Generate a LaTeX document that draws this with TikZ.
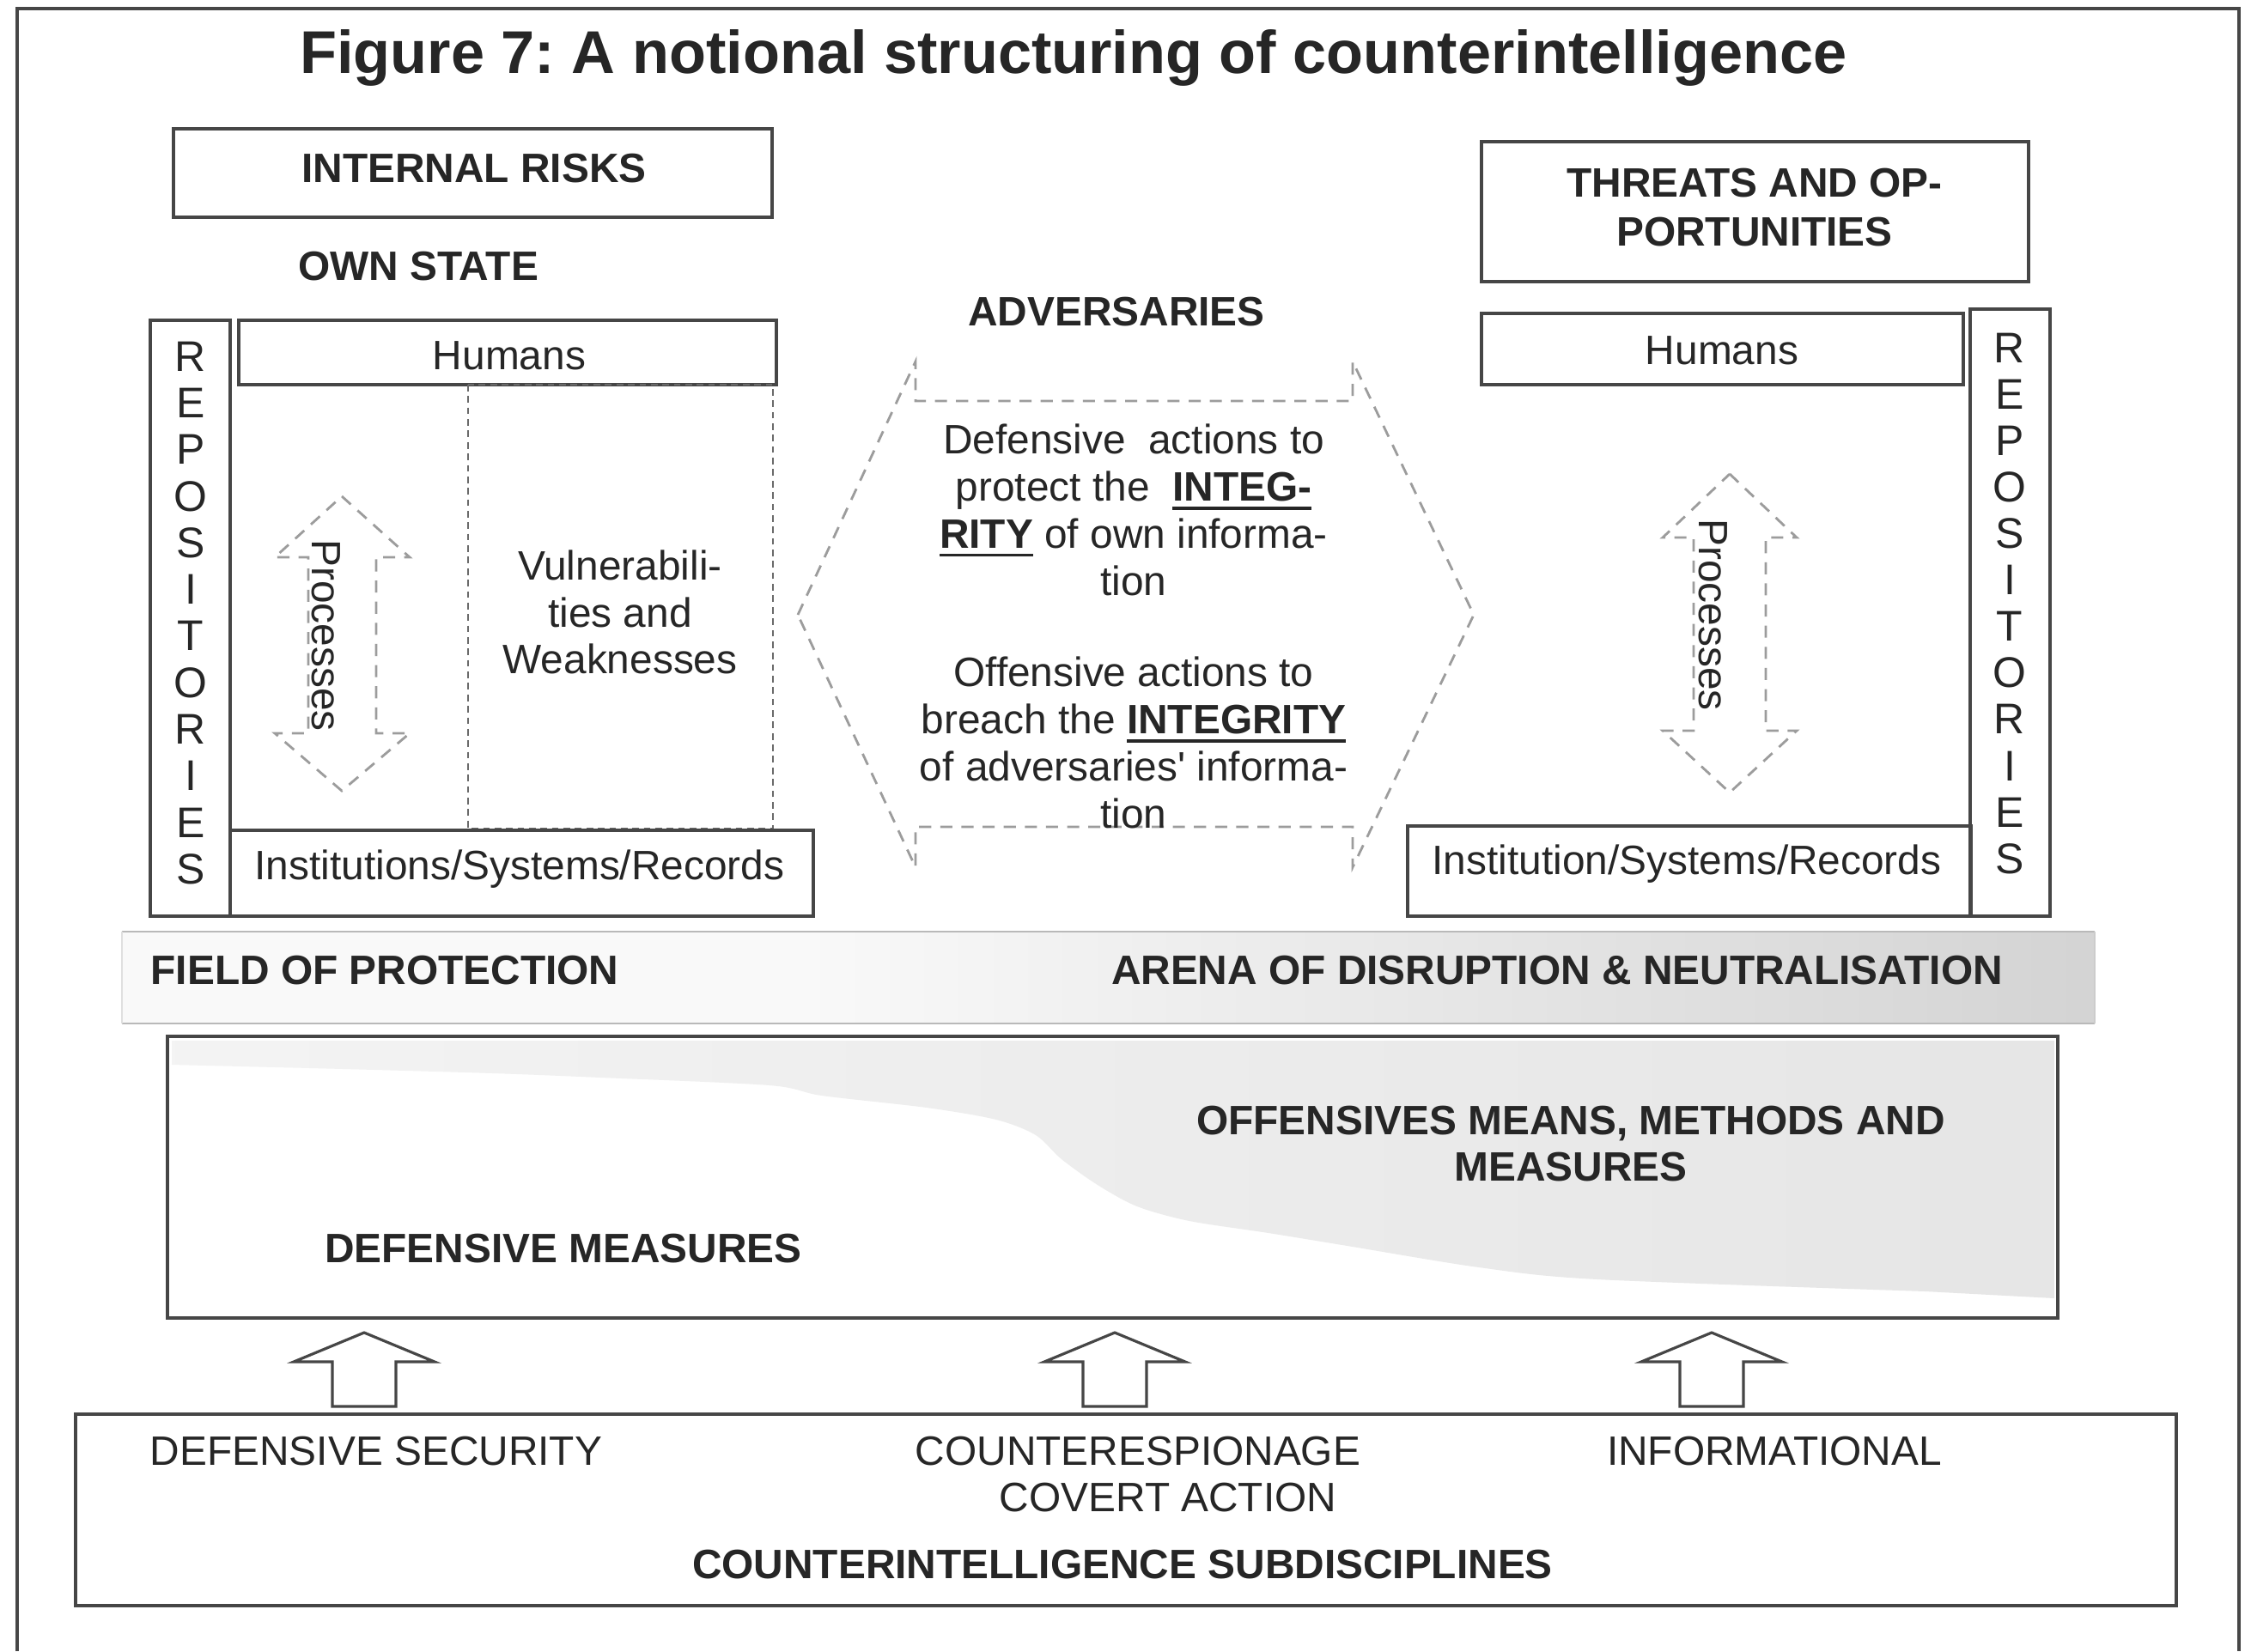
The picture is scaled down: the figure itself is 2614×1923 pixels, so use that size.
\documentclass[tikz,border=0pt]{standalone}
\usepackage{fontspec}
\setmainfont{Liberation Sans}
\frenchspacing
\definecolor{ink}{HTML}{262626}
\definecolor{edge}{HTML}{464646}
\definecolor{dashc}{HTML}{9C9C9C}
\definecolor{vdash}{HTML}{6A6A6A}
% bold keyword with a heavy underline
\newcommand{\undl}[1]{\setbox0=\hbox{\bfseries #1}\rlap{\raisebox{-2.8pt}{\rule{\wd0}{0.9pt}}}\box0\relax}
\begin{document}
\begin{tikzpicture}[x=0.01cm,y=-0.01cm,
  txt/.style={font=\fontsize{13.6}{15.6}\selectfont, text=ink, inner sep=0pt, align=center},
  hd/.style={txt, font=\fontsize{13.6}{15.6}\selectfont\bfseries},
  box/.style={draw=edge, line width=0.9pt},
  vbox/.style={draw=vdash, line width=0.8pt, dash pattern=on 2.2pt off 1.6pt},
  darrow/.style={draw=dashc, line width=0.8pt, dash pattern=on 4pt off 3pt, line join=miter},
  uparrow/.style={draw=edge, line width=0.9pt, fill=white, line join=miter}]

\useasboundingbox (0,0) rectangle (2614,1923);
\fill[white] (0,0) rectangle (2614,1923);

% outer frame
\draw[edge, line width=1pt] (20,1923) -- (20,10) -- (2607,10) -- (2607,1923);

% title
\node[txt, font=\fontsize{20}{24}\selectfont\bfseries] (title) at (1250,67)
  {Figure 7: A notional structuring of counterintelligence};

% ---------- own state (left) ----------
\draw[box] (202,150) rectangle (899,253);
\node[hd] (irisk) at (552,196) {INTERNAL RISKS};
\node[hd] (ownstate) at (487,310) {OWN STATE};

\draw[box] (175,373) rectangle (268,1067);
\foreach \ch [count=\i] in {R,E,P,O,S,I,T,O,R,I,E,S}
  \node[txt, font=\fontsize{14.2}{16}\selectfont] (repL\i) at (222,{415+54.3*(\i-1)}) {\ch};

\draw[box] (278,373) rectangle (904,448);
\node[txt] (humL) at (593,414) {Humans};

\draw[vbox] (545,448) rectangle (900,965);
\node[txt, font=\fontsize{13.6}{15.4}\selectfont] (vuln) at (722,713)
  {Vulnerabili-\\ties and\\Weaknesses};

\draw[box] (268,967) rectangle (947,1067);
\node[txt] (instL) at (605,1012) {Institutions/Systems/Records};

% processes, double block arrow (left)
\draw[darrow] (398,578) -- (477,649) -- (438,649) -- (438,854) -- (477,854)
  -- (398,921) -- (320,854) -- (359,854) -- (359,649) -- (320,649) -- cycle;
\node[txt, rotate=-90] (procL) at (380,740) {Processes};

% ---------- adversaries (centre) ----------
\node[hd] (advers) at (1300,363) {ADVERSARIES};
\draw[darrow] (929,716) -- (1066,421) -- (1066,467) -- (1575,467) -- (1575,421)
  -- (1716,716) -- (1575,1010) -- (1575,963) -- (1066,963) -- (1066,1010) -- cycle;
\node[txt] (defact) at (1320,594)
  {Defensive\ \ actions to\\protect the \ \undl{INTEG-}\\\undl{RITY} of own informa-\\tion};
\node[txt] (offact) at (1320,865)
  {Offensive actions to\\breach the \undl{INTEGRITY}\\of adversaries\textquotesingle\ informa-\\tion};

% ---------- threats and opportunities (right) ----------
\draw[box] (1725,165) rectangle (2362,328);
\node[hd, font=\fontsize{13.6}{16.2}\selectfont\bfseries] (threat) at (2043,242)
  {THREATS AND OP-\\PORTUNITIES};

\draw[box] (1725,365) rectangle (2286,448);
\node[txt] (humR) at (2005,408) {Humans};

\draw[box] (2294,360) rectangle (2387,1067);
\foreach \ch [count=\i] in {R,E,P,O,S,I,T,O,R,I,E,S}
  \node[txt, font=\fontsize{14.2}{16}\selectfont] (repR\i) at (2340,{405+54.1*(\i-1)}) {\ch};

\draw[box] (1639,962) rectangle (2295,1067);
\node[txt] (instR) at (1964,1006) {Institution/Systems/Records};

% processes, double block arrow (right)
\draw[darrow] (2014,552) -- (2092,626) -- (2056,626) -- (2056,851) -- (2092,851)
  -- (2014,923) -- (1936,851) -- (1972,851) -- (1972,626) -- (1936,626) -- cycle;
\node[txt, rotate=-90] (procR) at (1995,716) {Processes};

% ---------- field / arena band ----------
\fill[gray!5] (142,1085) rectangle (2439,1192);
\shade[left color=gray!5, right color=gray!34] (950,1085) rectangle (2439,1192);
\draw[gray!55, line width=0.7pt] (142,1085) -- (2439,1085);
\draw[gray!55, line width=0.7pt] (142,1192) -- (2439,1192);
\draw[gray!25, line width=0.5pt] (142,1085) -- (142,1192);
\draw[gray!40, line width=0.5pt] (2439,1085) -- (2439,1192);
\node[hd, anchor=west] (field) at (175,1130) {FIELD OF PROTECTION};
\node[hd] (arena) at (1813,1130) {ARENA OF DISRUPTION \& NEUTRALISATION};

% ---------- measures ----------
\shade[left color=gray!9, right color=gray!20]
  (200,1212) -- (2392,1212) -- (2392,1512)
  -- plot[smooth] coordinates {(2242,1504) (1860,1490) (1722,1476) (1569,1451)
     (1477,1436) (1385,1422) (1324,1405) (1278,1380) (1236,1350) (1206,1322)
     (1160,1304) (1079,1290) (957,1276) (896,1264) (700,1255) (574,1250)
     (400,1245) (200,1240)} -- cycle;
\draw[box] (195,1207) rectangle (2396,1535);
\node[hd] (offmeans) at (1829,1332) {OFFENSIVES MEANS, METHODS AND\\MEASURES};
\node[hd] (defmeas) at (656,1454) {DEFENSIVE MEASURES};

% ---------- block arrows up ----------
\foreach \cx [count=\i] in {424,1298,1993}
  \draw[uparrow] (\cx,1552) -- ({\cx+82},1586) -- ({\cx+37},1586) -- ({\cx+37},1638)
    -- ({\cx-37},1638) -- ({\cx-37},1586) -- ({\cx-82},1586) -- cycle;

% ---------- subdisciplines ----------
\draw[box] (88,1647) rectangle (2534,1870);
\node[txt] (defsec) at (438,1690) {DEFENSIVE SECURITY};
\node[txt] (cesp) at (1325,1690) {COUNTERESPIONAGE};
\node[txt] (covert) at (1360,1744) {COVERT ACTION};
\node[txt] (inform) at (2066,1690) {INFORMATIONAL};
\node[hd] (subdisc) at (1307,1822) {COUNTERINTELLIGENCE SUBDISCIPLINES};

\end{tikzpicture}
\end{document}
